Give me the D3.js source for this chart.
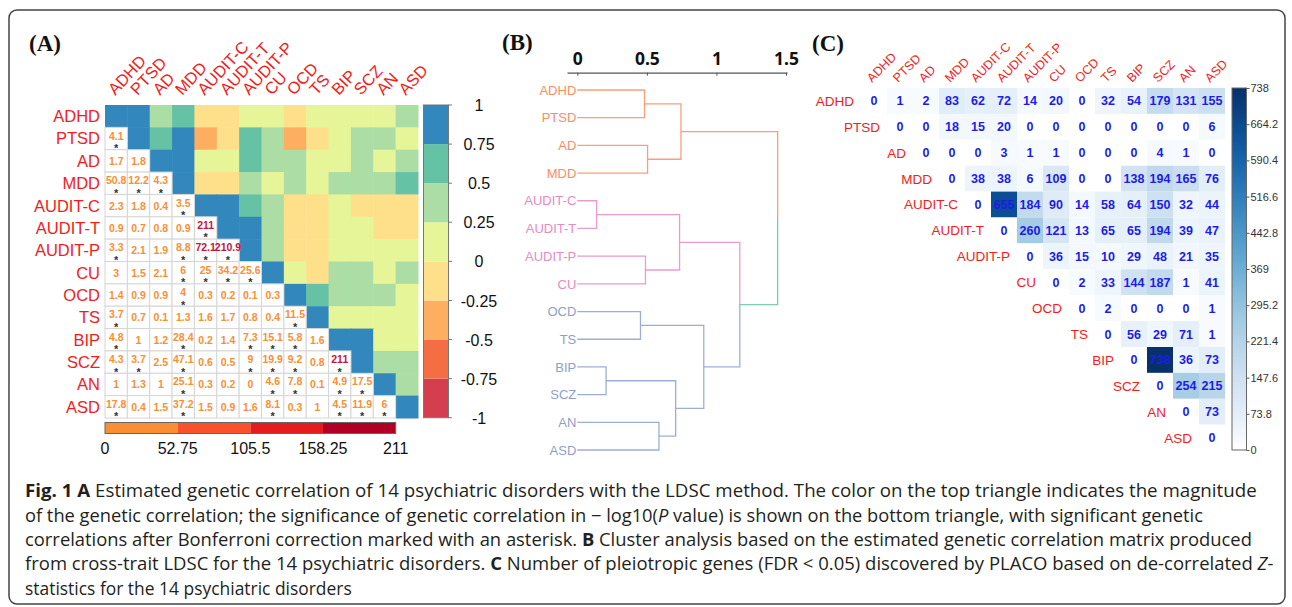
<!DOCTYPE html>
<html>
<head>
<meta charset="utf-8">
<script src="https://cdn.jsdelivr.net/npm/d3@7"></script>
<style>
  body { margin: 0; background: #fff; }
  svg { display: block; }
</style>
</head>
<body>
<svg id="fig" width="1292" height="607"></svg>
<script>
/* Traits, same order in all three panels */
const TRAITS = ['ADHD', 'PTSD', 'AD', 'MDD', 'AUDIT-C', 'AUDIT-T', 'AUDIT-P', 'CU', 'OCD', 'TS', 'BIP', 'SCZ', 'AN', 'ASD'];

/* (A) genetic correlation, upper triangle: row i holds columns i+1..13 */
const RG_UPPER = [
  [0.80, 0.40, 0.55, -0.10, -0.05, 0.15, 0.20, -0.15, 0.10, 0.10, 0.10, 0.05, 0.35],
  [0.60, 0.80, -0.35, -0.10, 0.55, 0.30, -0.30, -0.05, 0.15, 0.30, 0.30, 0.20],
  [0.85, 0.10, 0.15, 0.60, 0.35, 0.30, 0.20, 0.20, 0.30, 0.20, 0.30],
  [-0.05, -0.10, 0.45, 0.20, 0.30, 0.20, 0.35, 0.35, 0.30, 0.55],
  [0.95, 0.55, 0.30, -0.10, -0.05, 0.10, -0.05, -0.10, -0.05],
  [0.80, 0.40, -0.10, -0.05, 0.05, 0.10, -0.10, -0.05],
  [0.45, -0.05, -0.10, 0.15, 0.20, 0.10, 0.10],
  [0.05, -0.10, 0.30, 0.30, 0.20, 0.30],
  [0.55, 0.30, 0.35, 0.45, 0.20],
  [0.10, 0.05, 0.10, 0.15],
  [0.80, 0.20, 0.15],
  [0.30, 0.35],
  [0.30]
];

/* (A) -log10(P), lower triangle: row i holds columns 0..i-1 */
const LOGP_LOWER = [
  [],
  [4.1],
  [1.7, 1.8],
  [50.8, 12.2, 4.3],
  [2.3, 1.8, 0.4, 3.5],
  [0.9, 0.7, 0.8, 0.9, 211],
  [3.3, 2.1, 1.9, 8.8, 72.1, 210.9],
  [3, 1.5, 2.1, 6, 25, 34.2, 25.6],
  [1.4, 0.9, 0.9, 4, 0.3, 0.2, 0.1, 0.3],
  [3.7, 0.7, 0.1, 1.3, 1.6, 1.7, 0.8, 0.4, 11.5],
  [4.8, 1, 1.2, 28.4, 0.2, 1.4, 7.3, 15.1, 5.8, 1.6],
  [4.3, 3.7, 2.5, 47.1, 0.6, 0.5, 9, 19.9, 9.2, 0.8, 211],
  [1, 1.3, 1, 25.1, 0.3, 0.2, 0, 4.6, 7.8, 0.1, 4.9, 17.5],
  [17.8, 0.4, 1.5, 37.2, 1.5, 0.9, 1.6, 8.1, 0.3, 1, 4.5, 11.9, 6]
];

/* significant after Bonferroni (asterisk) */
const SIG_LOWER = [
  [],
  [1],
  [0, 0],
  [1, 1, 1],
  [0, 0, 0, 1],
  [0, 0, 0, 0, 1],
  [1, 0, 0, 1, 1, 1],
  [0, 0, 0, 1, 1, 1, 1],
  [0, 0, 0, 1, 0, 0, 0, 0],
  [1, 0, 0, 0, 0, 0, 0, 0, 1],
  [1, 0, 0, 1, 0, 0, 1, 1, 1, 0],
  [1, 1, 0, 1, 0, 0, 1, 1, 1, 0, 1],
  [0, 0, 0, 1, 0, 0, 0, 1, 1, 0, 1, 1],
  [1, 0, 0, 1, 0, 0, 0, 1, 0, 0, 1, 1, 1]
];

const RG_TICKS = [1, 0.75, 0.5, 0.25, 0, -0.25, -0.5, -0.75, -1];
const LOGP_TICKS = [0, 52.75, 105.5, 158.25, 211];

/* (B) hclust style merges: negative = leaf index+1, positive = merge row */
const MERGES = [
  [-1, -2, 0.483],
  [-3, -4, 0.505],
  [1, 2, 0.745],
  [-5, -6, 0.139],
  [-7, -8, 0.490],
  [4, 5, 0.735],
  [-9, -10, 0.454],
  [-11, -12, 0.207],
  [-13, -14, 0.587],
  [8, 9, 0.707],
  [7, 10, 0.909],
  [6, 11, 1.168],
  [3, 12, 1.440]
];
const DENDRO_TICKS = [0, 0.5, 1, 1.5];
const N_CLUSTERS = 3;

/* (C) number of pleiotropic genes: row i holds columns i..13 */
const PLACO_ROWS = [
  [0, 1, 2, 83, 62, 72, 14, 20, 0, 32, 54, 179, 131, 155],
  [0, 0, 18, 15, 20, 0, 0, 0, 0, 0, 0, 0, 6],
  [0, 0, 0, 3, 1, 1, 0, 0, 0, 4, 1, 0],
  [0, 38, 38, 6, 109, 0, 0, 138, 194, 165, 76],
  [0, 655, 184, 90, 14, 58, 64, 150, 32, 44],
  [0, 260, 121, 13, 65, 65, 194, 39, 47],
  [0, 36, 15, 10, 29, 48, 21, 35],
  [0, 2, 33, 144, 187, 1, 41],
  [0, 2, 0, 0, 0, 1],
  [0, 56, 29, 71, 1],
  [0, 738, 36, 73],
  [0, 254, 215],
  [0, 73],
  [0]
];
const PLACO_TICKS = [738, 664.2, 590.4, 516.6, 442.8, 369, 295.2, 221.4, 147.6, 73.8, 0];

const CAPTION = [
  [['Fig. 1 A', 'b'], [' Estimated genetic correlation of 14 psychiatric disorders with the LDSC method. The color on the top triangle indicates the magnitude']],
  [['of the genetic correlation; the significance of genetic correlation in \u2212 log10('], ['P', 'i'], [' value) is shown on the bottom triangle, with significant genetic']],
  [['correlations after Bonferroni correction marked with an asterisk. '], ['B', 'b'], [' Cluster analysis based on the estimated genetic correlation matrix produced']],
  [['from cross-trait LDSC for the 14 psychiatric disorders. '], ['C', 'b'], [' Number of pleiotropic genes (FDR < 0.05) discovered by PLACO based on de-correlated '], ['Z', 'i'], ['-']],
  [['statistics for the 14 psychiatric disorders']]
];

const RED = '#f21c1c';
const svg = d3.select('#fig');

svg.append('rect')
  .attr('x', 9).attr('y', 10).attr('width', 1276).attr('height', 594).attr('rx', 8)
  .attr('fill', 'none').attr('stroke', '#444').attr('stroke-width', 1.5);

const panelLabel = (x, y, t) => svg.append('text')
  .attr('x', x).attr('y', y).text(t)
  .style('font', 'bold 23px "Liberation Serif", serif').attr('fill', '#111');
panelLabel(29, 51, '(A)');
panelLabel(502, 50, '(B)');
panelLabel(812, 51, '(C)');

/* ---------- Panel A ---------- */
const ax = d3.scaleBand().domain(TRAITS).range([105, 418]);
const ay = d3.scaleBand().domain(TRAITS).range([105, 418]);
const rgColor = d3.scaleQuantize().domain([-1, 1])
  .range(['#d53e4f', '#f46d43', '#fdae61', '#fee08b', '#e6f598', '#abdda4', '#66c2a5', '#3288bd']);
const logpColor = d3.scaleQuantize().domain([0, 211])
  .range(['#fb8d32', '#f9512c', '#e41c1e', '#b00026']);
const logpText = d3.scaleThreshold().domain([52.75]).range(['#f98f34', '#c4153c']);

const upper = [];
const lower = [];
TRAITS.forEach((r, i) => {
  upper.push({ r, c: r, v: 1 });
  RG_UPPER[i] && RG_UPPER[i].forEach((v, k) => upper.push({ r, c: TRAITS[i + 1 + k], v }));
  LOGP_LOWER[i].forEach((v, k) => lower.push({ r, c: TRAITS[k], v, sig: SIG_LOWER[i][k] }));
});

const gA = svg.append('g');
gA.selectAll('rect.up').data(upper).enter().append('rect').classed('up', true)
  .attr('x', d => ax(d.c)).attr('y', d => ay(d.r))
  .attr('width', ax.bandwidth() + 0.5).attr('height', ay.bandwidth() + 0.5)
  .attr('fill', d => rgColor(d.v));

gA.selectAll('rect.low').data(lower).enter().append('rect').classed('low', true)
  .attr('x', d => ax(d.c)).attr('y', d => ay(d.r))
  .attr('width', ax.bandwidth()).attr('height', ay.bandwidth())
  .attr('fill', '#fff').attr('stroke', '#d6d6d6').attr('stroke-width', 1);

const cellText = gA.selectAll('g.val').data(lower).enter().append('g').classed('val', true)
  .attr('transform', d => `translate(${ax(d.c) + ax.bandwidth() / 2},${ay(d.r) + ay.bandwidth() / 2})`);
cellText.append('text')
  .attr('text-anchor', 'middle')
  .attr('y', d => d.sig ? 1 : 4)
  .style('font', 'bold 10.5px "Liberation Sans", Arial, sans-serif')
  .attr('fill', d => logpText(d.v))
  .text(d => d.v);
cellText.filter(d => d.sig).append('text')
  .attr('text-anchor', 'middle').attr('y', 13.5)
  .style('font', 'bold 11px "Liberation Sans", Arial, sans-serif')
  .attr('fill', '#333').text('*');

gA.selectAll('text.rowA').data(TRAITS).enter().append('text').classed('rowA', true)
  .attr('x', 100).attr('y', d => ay(d) + ay.bandwidth() / 2).attr('dy', '0.36em')
  .attr('text-anchor', 'end').attr('fill', RED)
  .style('font', '16.5px "Liberation Sans", Arial, sans-serif').text(d => d);

gA.selectAll('text.colA').data(TRAITS).enter().append('text').classed('colA', true)
  .attr('transform', d => `translate(${ax(d) + ax.bandwidth() / 2 - 1},96) rotate(-47)`)
  .attr('fill', RED)
  .style('font', '16.5px "Liberation Sans", Arial, sans-serif').text(d => d);

/* vertical legend for rg */
const legY = d3.scaleLinear().domain([1, -1]).range([105, 417.7]);
const rgBins = rgColor.range().map(c => rgColor.invertExtent(c));
gA.selectAll('rect.legR').data(rgBins).enter().append('rect').classed('legR', true)
  .attr('x', 423.5).attr('width', 25)
  .attr('y', d => legY(d[1])).attr('height', d => legY(d[0]) - legY(d[1]))
  .attr('fill', d => rgColor((d[0] + d[1]) / 2));
gA.append('rect').attr('x', 423.5).attr('y', 105).attr('width', 25).attr('height', legY(-1) - 105)
  .attr('fill', 'none').attr('stroke', '#777').attr('stroke-width', 1);
gA.selectAll('line.legRt').data(RG_TICKS).enter().append('line').classed('legRt', true)
  .attr('x1', 448.5).attr('x2', 452).attr('y1', d => legY(d)).attr('y2', d => legY(d))
  .attr('stroke', '#777');
gA.selectAll('text.legRl').data(RG_TICKS).enter().append('text').classed('legRl', true)
  .attr('x', 479).attr('y', d => legY(d)).attr('dy', '0.38em').attr('text-anchor', 'middle')
  .attr('fill', '#111').style('font', '16px "Liberation Sans", Arial, sans-serif')
  .text(d => d);

/* horizontal legend for -log10(P) */
const legX = d3.scaleLinear().domain([0, 211]).range([105, 395.7]);
const pBins = logpColor.range().map(c => logpColor.invertExtent(c));
gA.selectAll('rect.legP').data(pBins).enter().append('rect').classed('legP', true)
  .attr('y', 422.5).attr('height', 11)
  .attr('x', d => legX(d[0])).attr('width', d => legX(d[1]) - legX(d[0]))
  .attr('fill', d => logpColor((d[0] + d[1]) / 2));
gA.append('rect').attr('x', 105).attr('y', 422.5).attr('width', legX(211) - 105).attr('height', 11)
  .attr('fill', 'none').attr('stroke', '#666').attr('stroke-width', 1);
gA.selectAll('text.legPl').data(LOGP_TICKS).enter().append('text').classed('legPl', true)
  .attr('x', d => legX(d)).attr('y', 454).attr('text-anchor', 'middle')
  .attr('fill', '#111').style('font', '16px "Liberation Sans", Arial, sans-serif')
  .text(d => d);

/* ---------- Panel B ---------- */
const bx = d3.scaleLinear().domain([0, 1.5]).range([577.3, 786]);
const by = d3.scalePoint().domain(TRAITS).range([90, 450]);
const SET2 = ['#fc8d62', '#e78ac3', '#8da0cb'];
const LINK_TEAL = '#66c2a5';

const leafNodes = TRAITS.map((t, i) => ({ name: t, h: 0, y: by(t), leaves: [i] }));
const mergeNodes = [];
MERGES.forEach(([a, b, h]) => {
  const pick = k => k < 0 ? leafNodes[-k - 1] : mergeNodes[k - 1];
  const kids = [pick(a), pick(b)];
  mergeNodes.push({ h, kids, y: (kids[0].y + kids[1].y) / 2, leaves: kids[0].leaves.concat(kids[1].leaves) });
});
// cut tree into N_CLUSTERS: the top (k-1) merges are above the cut
const cutTop = new Set(mergeNodes.slice(-(N_CLUSTERS - 1)));
const assign = (node, col) => {
  node.color = col;
  (node.kids || []).forEach(k => assign(k, col));
};
const clusterRoots = [];
const findRoots = node => {
  if (cutTop.has(node)) { node.color = LINK_TEAL; node.kids.forEach(findRoots); }
  else clusterRoots.push(node);
};
findRoots(mergeNodes[mergeNodes.length - 1]);
clusterRoots.sort((p, q) => d3.min(p.leaves) - d3.min(q.leaves))
  .forEach((n, i) => assign(n, SET2[i]));

const links = [];
mergeNodes.forEach(p => p.kids.forEach(c => links.push({ p, c })));
const gB = svg.append('g');
gB.selectAll('path.link').data(links).enter().append('path').classed('link', true)
  .attr('d', d => `M${bx(d.p.h)},${d.p.y}V${d.c.y}H${bx(d.c.h)}`)
  .attr('fill', 'none').attr('stroke', d => d.c.color)
  .attr('stroke-width', 1.3).attr('stroke-opacity', 0.85);

gB.selectAll('text.leaf').data(leafNodes).enter().append('text').classed('leaf', true)
  .attr('x', bx(0) - 1).attr('y', d => d.y).attr('dy', '0.36em').attr('text-anchor', 'end')
  .attr('fill', d => d.color)
  .style('font', '13px "Liberation Sans", Arial, sans-serif').text(d => d.name);

const bAxisScale = bx.copy().domain([bx.invert(567), bx.invert(787)]).range([567, 787]);
const bAxis = gB.append('g').attr('transform', 'translate(0,72.7)')
  .call(d3.axisTop(bAxisScale).tickValues(DENDRO_TICKS).tickSizeInner(-3).tickSizeOuter(0)
    .tickPadding(8).tickFormat(d3.format('')));
bAxis.select('.domain').attr('stroke', '#555').attr('stroke-width', 1.3);
bAxis.selectAll('.tick line').attr('stroke', '#555');
bAxis.selectAll('.tick text').attr('fill', '#111')
  .style('font', 'bold 17.5px "Noto Sans", "DejaVu Sans", sans-serif');

/* ---------- Panel C ---------- */
const cx = d3.scaleBand().domain(TRAITS).range([861, 861 + 26 * 14]);
const cy = d3.scaleBand().domain(TRAITS).range([88, 88 + 25.9 * 14]);
const PLACO_MAX = d3.max(PLACO_TICKS);
const blues = d3.scaleSequential(d3.interpolateBlues).domain([0, PLACO_MAX]);

const cells = [];
PLACO_ROWS.forEach((row, i) => row.forEach((v, k) => cells.push({ r: TRAITS[i], c: TRAITS[i + k], v })));

const gC = svg.append('g');
gC.selectAll('rect.cell').data(cells).enter().append('rect').classed('cell', true)
  .attr('x', d => cx(d.c)).attr('y', d => cy(d.r))
  .attr('width', cx.bandwidth()).attr('height', cy.bandwidth())
  .attr('fill', d => d.v === 0 ? '#fff' : blues(d.v));
gC.selectAll('text.cellv').data(cells).enter().append('text').classed('cellv', true)
  .attr('x', d => cx(d.c) + cx.bandwidth() / 2).attr('y', d => cy(d.r) + cy.bandwidth() / 2)
  .attr('dy', '0.36em').attr('text-anchor', 'middle').attr('fill', '#1c1ce8')
  .style('font', 'bold 12.5px "Liberation Sans", Arial, sans-serif').text(d => d.v);

gC.selectAll('text.rowC').data(TRAITS).enter().append('text').classed('rowC', true)
  .attr('x', d => cx(d) + cx.bandwidth() / 2 - 20).attr('y', d => cy(d) + cy.bandwidth() / 2)
  .attr('dy', '0.36em').attr('text-anchor', 'end').attr('fill', RED)
  .style('font', '13.5px "Liberation Sans", Arial, sans-serif').text(d => d);

gC.selectAll('text.colC').data(TRAITS).enter().append('text').classed('colC', true)
  .attr('transform', d => `translate(${cx(d) + cx.bandwidth() / 2 - 2},83) rotate(-45)`)
  .attr('fill', RED)
  .style('font', '12.5px "Liberation Sans", Arial, sans-serif').text(d => d);

const defs = svg.append('defs');
const grad = defs.append('linearGradient').attr('id', 'bluesGrad')
  .attr('x1', 0).attr('y1', 1).attr('x2', 0).attr('y2', 0);
d3.range(0, 1.0001, 0.1).forEach(t => grad.append('stop')
  .attr('offset', t).attr('stop-color', t === 0 ? '#fff' : d3.interpolateBlues(t)));

const legC = d3.scaleLinear().domain([0, PLACO_MAX]).range([450, 88]);
gC.append('rect').attr('x', 1232).attr('y', 88).attr('width', 14.5).attr('height', 362)
  .attr('fill', 'url(#bluesGrad)').attr('stroke', '#666').attr('stroke-width', 1);
const cAxis = gC.append('g').attr('transform', 'translate(1246.5,0)')
  .call(d3.axisRight(legC).tickValues(PLACO_TICKS).tickSize(3).tickPadding(1).tickFormat(d => String(d)));
cAxis.select('.domain').remove();
cAxis.selectAll('.tick line').attr('stroke', '#555');
cAxis.selectAll('.tick text').attr('fill', '#333')
  .style('font', '11px "Liberation Sans", Arial, sans-serif');

/* ---------- Caption ---------- */
const CAP_BASE = [497, 521.5, 546, 570.3, 594.8];
const CAP_WIDTH = [1233, 1179, 1228, 1249, 327];
const gCap = svg.append('g');
CAPTION.forEach((segs, i) => {
  const t = gCap.append('text')
    .style('font', '17.5px "Open Sans", "Noto Sans", sans-serif')
    .attr('fill', '#231f20');
  segs.forEach(([s, st]) => {
    const ts = t.append('tspan').text(s);
    if (st === 'b') ts.attr('font-weight', 'bold');
    if (st === 'i') ts.attr('font-style', 'italic');
  });
  const w = t.node().getComputedTextLength();
  t.attr('transform', `translate(25,${CAP_BASE[i]}) scale(${CAP_WIDTH[i] / w},1)`);
});
</script>
</body>
</html>
